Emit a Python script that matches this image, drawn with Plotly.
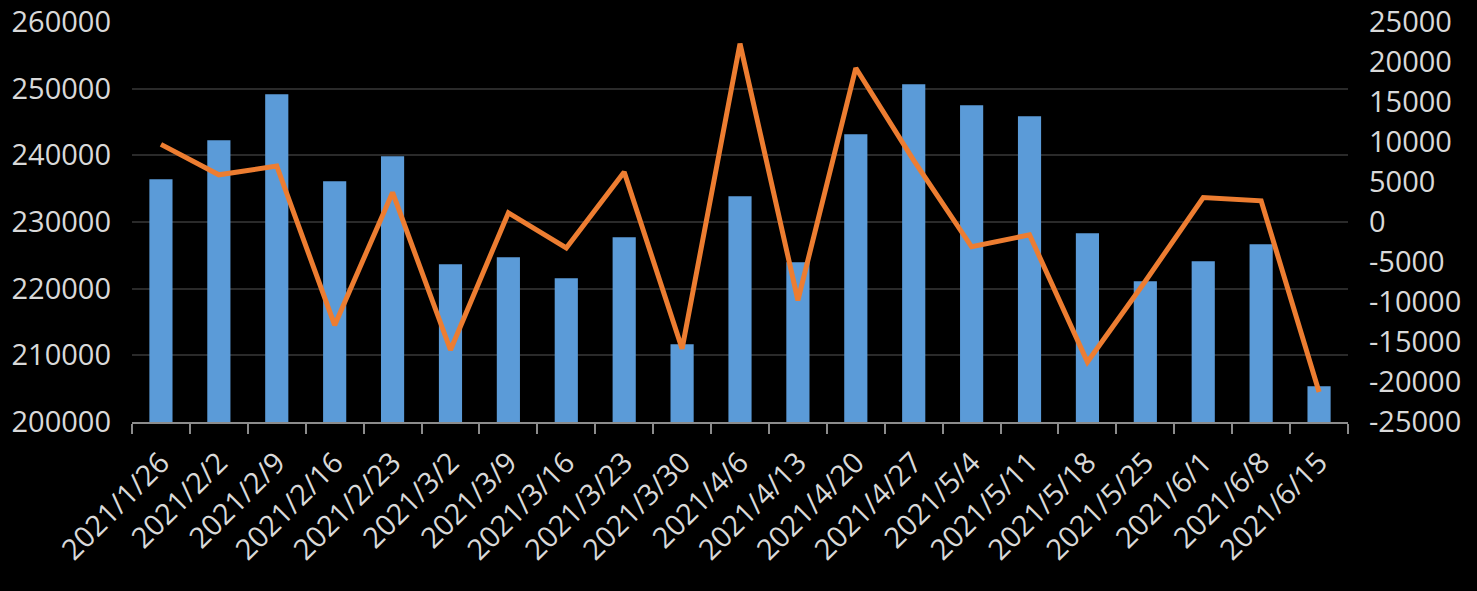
import plotly.graph_objects as go

categories = ["2021/1/26", "2021/2/2", "2021/2/9", "2021/2/16", "2021/2/23", "2021/3/2",
              "2021/3/9", "2021/3/16", "2021/3/23", "2021/3/30", "2021/4/6", "2021/4/13",
              "2021/4/20", "2021/4/27", "2021/5/4", "2021/5/11", "2021/5/18", "2021/5/25",
              "2021/6/1", "2021/6/8", "2021/6/15"]

bar_values = [236400, 242250, 249150, 236100, 239850, 223650, 224700, 221550, 227700, 211650,
              233850, 223950, 243150, 250650, 247500, 245850, 228300, 221100, 224100, 226650,
              205350]

line_values = [9700, 5900, 7000, -12900, 3700, -16000, 1150, -3250, 6250, -15850,
               22300, -9800, 19250, 7700, -3100, -1600, -17500, -7400, 3050, 2650,
               -21250]

left_ticks = [200000, 210000, 220000, 230000, 240000, 250000, 260000]
right_ticks = [-25000, -20000, -15000, -10000, -5000, 0, 5000, 10000, 15000, 20000, 25000]
right_labels = [str(v) for v in right_ticks]

font_family = "Open Sans"
label_color = "#d9d9d9"

fig = go.Figure()
fig.add_trace(go.Bar(
    x=categories, y=bar_values, marker=dict(color="#5b9bd8", line=dict(width=0)),
    yaxis="y", name="bars",
))
fig.add_trace(go.Scatter(
    x=categories, y=line_values, mode="lines", yaxis="y2",
    line=dict(color="#ed7d31", width=5), name="line",
))

fig.update_layout(
    width=1477, height=591,
    paper_bgcolor="black", plot_bgcolor="black",
    margin=dict(l=132, r=129, t=22, b=169, autoexpand=False),
    showlegend=False,
    bargap=0.6,
    font=dict(family=font_family, size=28, color=label_color),
    xaxis=dict(
        type="category", tickangle=-45, tickson="boundaries",
        ticks="outside", ticklen=10, tickcolor="#8c8c8c", tickwidth=2,
        showline=True, linecolor="#8c8c8c", linewidth=2,
        showgrid=False, automargin=False, ticklabelstandoff=10,
        tickfont=dict(size=29, color=label_color),
    ),
    yaxis=dict(
        range=[200000, 260000], tickvals=left_ticks, tickformat="d",
        showgrid=True, gridcolor="#2a2a2a", gridwidth=2,
        zeroline=False, showline=False, ticks="", ticklabelstandoff=20,
        automargin=False, tickfont=dict(size=29, color=label_color),
    ),
    yaxis2=dict(
        range=[-25000, 25000], overlaying="y", side="right",
        tickvals=right_ticks, ticktext=right_labels,
        showgrid=False, zeroline=False, showline=False, ticks="",
        ticklabelstandoff=20, automargin=False,
        tickfont=dict(size=29, color=label_color),
    ),
)

fig.write_html("out.html", config={"displayModeBar": False},
               post_script="document.body.style.margin='0';document.body.style.background='black';")
